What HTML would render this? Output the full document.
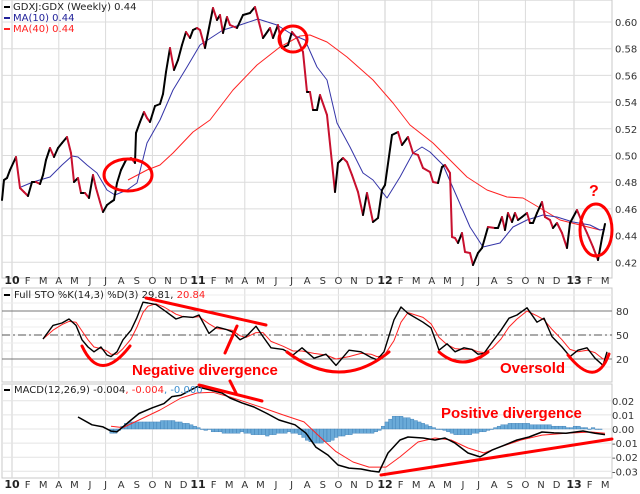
<!DOCTYPE html>
<html><head><meta charset="utf-8"><style>
html,body{margin:0;padding:0;background:#fff;}
svg{display:block;font-family:"DejaVu Sans","Liberation Sans",sans-serif;}
</style></head><body>
<svg id="c" width="640" height="494" viewBox="0 0 640 494" xmlns="http://www.w3.org/2000/svg">
<g id="grid"></g>
<g id="marks"></g>
<g id="labels"></g>
<g id="ann"></g>
</svg>
<script>
// ---- data ----
const priceX=[2,4,7,10,16,20,24,28,32,36,40,43,46,50,54,58,62,67,71,74,78,81,85,89,93,96,100,103,107,111,114,117,121,126,131,135,136,140,144,147,150,155,160,163,166,170,174,178,182,186,190,193,197,200,205,213,217,220,223,227,230,237,243,250,255,263,270,273,278,282,288,292,297,303,307,310,313,317,320,327,332,335,338,343,347,352,358,363,367,373,378,382,385,392,398,402,408,413,418,423,430,433,438,442,445,450,452,455,458,462,465,470,473,478,482,488,495,498,502,505,508,512,515,518,522,527,530,533,537,542,545,550,553,557,562,567,570,577,582,587,593,598,602,605];
const priceY=[200,180,178,170,157,188,192,196,182,182,184,175,160,148,157,148,143,137,153,182,178,193,193,198,175,188,202,212,205,202,200,183,170,160,158,163,133,122,112,118,122,106,104,94,72,48,70,60,45,32,38,30,28,30,48,8,20,15,33,17,25,28,15,13,7,38,28,38,25,48,45,32,38,52,92,92,110,110,95,115,163,192,163,158,162,175,192,215,193,222,218,190,185,135,132,145,137,153,155,168,172,182,183,167,165,173,237,238,243,233,252,253,265,253,248,227,228,228,217,230,213,222,213,220,217,213,223,223,213,202,217,220,228,223,233,248,223,210,222,233,247,260,238,224];
const ma10X=[21,33,50,62,72,78,87,97,107,115,127,137,147,160,173,187,200,223,240,258,277,293,305,317,327,337,350,363,373,387,400,413,422,430,443,457,470,483,500,513,527,543,557,573,590,600,605];
const ma10Y=[187,182,177,165,156,157,165,173,190,195,190,183,143,120,90,67,45,30,25,19,25,35,40,67,80,123,147,173,180,198,177,153,147,152,165,197,227,247,243,227,220,215,217,222,225,230,229];
const ma40X=[128,147,160,173,193,210,233,257,280,300,310,327,347,373,393,410,433,467,487,507,523,540,560,580,600,605];
const ma40Y=[180,170,165,153,132,120,90,65,47,36,35,42,57,80,103,125,143,177,190,197,198,208,220,225,230,229];
const priceTicks=[0.60,0.58,0.56,0.54,0.52,0.50,0.48,0.46,0.44,0.42];
const stoX=[43,53,62,69,76,82,88,94,101,107,111,117,123,131,137,143,148,156,164,176,183,193,199,209,217,226,232,240,246,256,263,271,283,293,302,314,326,336,349,361,371,377,384,394,401,408,423,431,439,447,455,464,472,478,484,492,501,509,517,527,537,544,552,562,570,578,587,595,603,607];
const stoK=[45,62,65,70,62,44,35,29,35,25,23,29,44,56,72,91,90,88,81,70,73,72,75,52,60,57,54,44,48,61,48,34,32,25,34,21,26,12,31,29,22,19,29,69,85,77,66,59,31,39,29,34,32,26,27,41,56,71,75,84,66,71,48,35,23,31,34,21,12,29];
const stoD=[45,56,63,67,66,55,44,35,33,30,26,26,33,45,60,78,86,89,85,76,73,72,73,64,58,57,56,49,47,53,53,42,36,30,30,27,25,20,23,27,26,23,24,43,66,78,72,64,47,38,33,32,32,29,28,33,45,60,70,80,74,69,57,44,32,29,31,28,20,21];
const stoTicks=[80,50,20];
const macdX=[78,92,103,111,117,127,139,152,164,172,181,197,222,230,242,254,267,279,295,306,316,328,338,349,361,371,379,388,400,408,423,435,445,455,468,480,492,505,517,529,542,554,566,583,595,605];
const macdV=[0.0085,0.003,0.0015,-0.0015,-0.002,0.004,0.011,0.015,0.018,0.023,0.024,0.03,0.0255,0.022,0.0185,0.0156,0.011,0.0064,0.003,-0.003,-0.013,-0.0185,-0.0255,-0.0277,-0.0284,-0.0298,-0.0305,-0.017,-0.0078,-0.0057,-0.0064,-0.0078,-0.0064,-0.01,-0.017,-0.0198,-0.015,-0.0113,-0.0078,-0.0057,-0.0021,-0.0028,-0.003,-0.0014,-0.003,-0.004];
const sigX=[111,123,139,160,181,197,213,230,246,263,283,304,320,336,353,369,386,400,418,435,451,468,484,500,521,542,566,591,605];
const sigV=[0.002,0.001,0.0064,0.0135,0.022,0.0255,0.026,0.0227,0.019,0.015,0.01,0.005,-0.0057,-0.016,-0.0234,-0.027,-0.027,-0.0198,-0.0092,-0.0064,-0.0078,-0.0135,-0.017,-0.0128,-0.0078,-0.0043,-0.003,-0.0021,-0.003];
const histStart=30;
const histV=[-3,-3,-1,2,4,5,5,5,5,5,5,5,5,5,6,6,6,6,5,5,4,4,3,2,1,0,-1,0,-2,-2,-2,-3,-3,-3,-3,-3,-2,-3,-3,-4,-4,-4,-4,-5,-4,-4,-3,-3,-3,-2,-3,-3,-4,-6,-8,-9,-10,-10,-10,-9,-9,-8,-6,-5,-5,-4,-4,-3,-3,-3,-3,-3,-3,-2,-1,2,5,7,9,9,9,8,8,7,6,5,4,3,2,1,0,0,-1,-2,-3,-4,-4,-4,-4,-4,-3,-3,-2,-2,-1,0,1,2,3,3,4,4,4,4,4,4,3,3,3,3,3,3,2,2,2,2,1,1,2,2,1,1,0,1,0,0];
const macdTicks=[0.02,0.01,0.00,-0.01,-0.02,-0.03];
const monthNames=["F","M","A","M","J","J","A","S","O","N","D"];
const yearLabels=["10","11","12","13"];
const yearX=[12,198,385,574];

// ---- scales ----
const NS="http://www.w3.org/2000/svg";
const yP=v=>22+(0.60-v)*1335;
const yS=v=>359-(v-20)*0.8;
const yM=v=>429-v*1410;
const xW=w=>3+w*3.62;
function el(parent,tag,attrs,txt){const e=document.createElementNS(NS,tag);for(const k in attrs)e.setAttribute(k,attrs[k]);if(txt!==undefined)e.textContent=txt;document.getElementById(parent).appendChild(e);return e;}
function pts(xs,ys,f){return xs.map((x,i)=>x+','+(f?f(ys[i]):ys[i]).toFixed(1)).join(' ');}

const panels=[[0,278],[288,382],[384,478]];
panels.forEach((p,i)=>{
  const r=el('grid','rect',{x:2,y:p[0],width:610,height:p[1]-p[0],fill:'#fff',stroke:'#c8c8c8','stroke-width':1});
  
  
});
for(let y=0;y<4;y++){for(let q=0;q<4;q++){const x=yearX[y]+q*3*15.6;if(x>610)continue;
  panels.forEach(p=>{const l=el('grid','line',{x1:x,x2:x,y1:p[0],y2:p[1],stroke:'#dadada','stroke-width':q===0?1.3:1});
  
  });}}
priceTicks.forEach(v=>{const y=yP(v);
  const l=el('grid','line',{x1:2,x2:612,y1:y,y2:y,stroke:'#dcdcdc'});
  
  
  const t=el('labels','text',{x:615,y:y+4,'font-size':10,fill:'#333'},v.toFixed(2));
  
  });
for(let v=10;v<=100;v+=10){const l=el('grid','line',{x1:2,x2:612,y1:yS(v),y2:yS(v),stroke:'#ececec'});
  
  }
stoTicks.forEach(v=>{const y=yS(v);
  const l=el('grid','line',{x1:2,x2:612,y1:y,y2:y,stroke:v===50?'#555':'#777','stroke-dasharray':v===50?'8,3,2,3':'none'});
  
  
  const t=el('labels','text',{x:616,y:y+4,'font-size':10,fill:'#333'},String(v));
  
  });
macdTicks.forEach(v=>{const y=yM(v);
  const l=el('grid','line',{x1:2,x2:612,y1:y,y2:y,stroke:'#e4e4e4'});
  
  
  const t=el('labels','text',{x:612,y:y+4,'font-size':10,fill:'#333'},v.toFixed(2));
  
  });
[280,484].forEach(ty=>{yearX.forEach((yx,yi)=>{
  const t=el('labels','text',{x:yx,y:ty+4,'font-size':11,'font-weight':'bold','text-anchor':'middle',fill:'#222'},yearLabels[yi]);
  
  
  monthNames.forEach((m,mi)=>{const x=yx+(mi+1)*15.6;if(x>610)return;
    const tt=el('labels','text',{x:x,y:ty+4,'font-size':10,'text-anchor':'middle',fill:'#333'},m);
    
    });});});

histV.forEach((v,i)=>{const x=xW(histStart+i);const y0=yM(0),y1=yM(v/1000);
  const r=el('marks','rect',{x:x-1.8,y:Math.min(y0,y1),width:3.62,height:Math.max(0.5,Math.abs(y1-y0)),fill:'#6aaad8',stroke:'#3b7db5','stroke-width':0.4});
  
  });

function line(xs,ys,f,color,w,name){const p=el('marks','polyline',{points:pts(xs,ys,f),fill:'none',stroke:color,'stroke-width':w,'stroke-linejoin':'round'});
  
  }
line(ma40X,ma40Y,null,'#f22',1,'ma40-line');
line(ma10X,ma10Y,null,'#3535a8',1,'ma10-line');
for(let i=0;i<priceX.length-1;i++){const down=priceY[i+1]>priceY[i];
  const s=el('marks','line',{x1:priceX[i],y1:priceY[i],x2:priceX[i+1],y2:priceY[i+1],stroke:down?'#c8102e':'#000','stroke-width':2,'stroke-linecap':'round'});
  
  }
line(stoX,stoD,yS,'#f22',1,'sto-d-line');
line(stoX,stoK,yS,'#000',1.4,'sto-k-line');
line(sigX,sigV,yM,'#f22',1,'macd-signal-line');
line(macdX,macdV,yM,'#000',1.5,'macd-line');

function txt(g,x,y,s,fill,size,name,weight,fam){const a={x:x,y:y,'font-size':size,fill:fill,'font-weight':weight||'normal'};if(fam)a['font-family']=fam;const t=el(g,'text',a,s);
  
  return t;}
[['GDXJ:GDX (Weekly) 0.44','#222','#000',11],['MA(10) 0.44','#22229a','#22229a',22],['MA(40) 0.44','#f22','#f22',33]].forEach((a,i)=>{
  const r=el('labels','rect',{x:4,y:a[3]-5,width:6,height:2,fill:a[2]});
  
  
  txt('labels',13,a[3]-1,a[0],a[1],10,'legend-entry');});
const r1=el('labels','rect',{x:4,y:294,width:6,height:2,fill:'#000'});


const st=txt('labels',14,298,'','#222',10,'sto-legend');
st.innerHTML='Full STO %K(14,3) %D(3) 29.81, <tspan fill="#f22">20.84</tspan>';
const r2=el('labels','rect',{x:4,y:389,width:6,height:2,fill:'#000'});


const mt=txt('labels',14,393,'','#222',10,'macd-legend');
mt.innerHTML='MACD(12,26,9) -0.004<tspan fill="#f22">, -0.004</tspan><tspan fill="#3a8ccc">, -0.000</tspan>';

const R='#f00';
const AF='"Liberation Sans",sans-serif';
function ann(tag,a,name){const e=el('ann',tag,Object.assign({fill:'none',stroke:R,'stroke-width':3,'stroke-linecap':'round'},a));
  
  }
ann('ellipse',{cx:128,cy:175,rx:24,ry:16},'circle-ma-cross-up');
ann('ellipse',{cx:293,cy:39,rx:14,ry:13},'circle-ma-cross-down');
ann('ellipse',{cx:596,cy:230,rx:16,ry:26},'circle-current');
txt('ann',589,196,'?',R,16,'question-mark','bold',AF);
ann('line',{x1:146,y1:298,x2:266,y2:325},'sto-divergence-line');
ann('line',{x1:237,y1:326,x2:225,y2:353},'sto-divergence-tick');
ann('path',{d:'M82,346 Q100,385 130,346'},'oversold-arc-1');
ann('path',{d:'M287,352 Q340,392 389,352'},'oversold-arc-2');
ann('path',{d:'M439,352 Q462,372 488,352'},'oversold-arc-3');
ann('path',{d:'M568,355 Q596,390 609,354'},'oversold-arc-4');
txt('ann',132,375,'Negative divergence',R,15,'negative-divergence-label','bold',AF);
txt('ann',500,373,'Oversold',R,15,'oversold-label','bold',AF);
ann('line',{x1:230,y1:381,x2:236,y2:393},'pointer-line');
ann('line',{x1:199,y1:385,x2:262,y2:401},'macd-negative-divergence-line');
txt('ann',441,418,'Positive divergence',R,15,'positive-divergence-label','bold',AF);
ann('line',{x1:381,y1:475,x2:612,y2:439},'macd-positive-divergence-line');
</script>
</body></html>
